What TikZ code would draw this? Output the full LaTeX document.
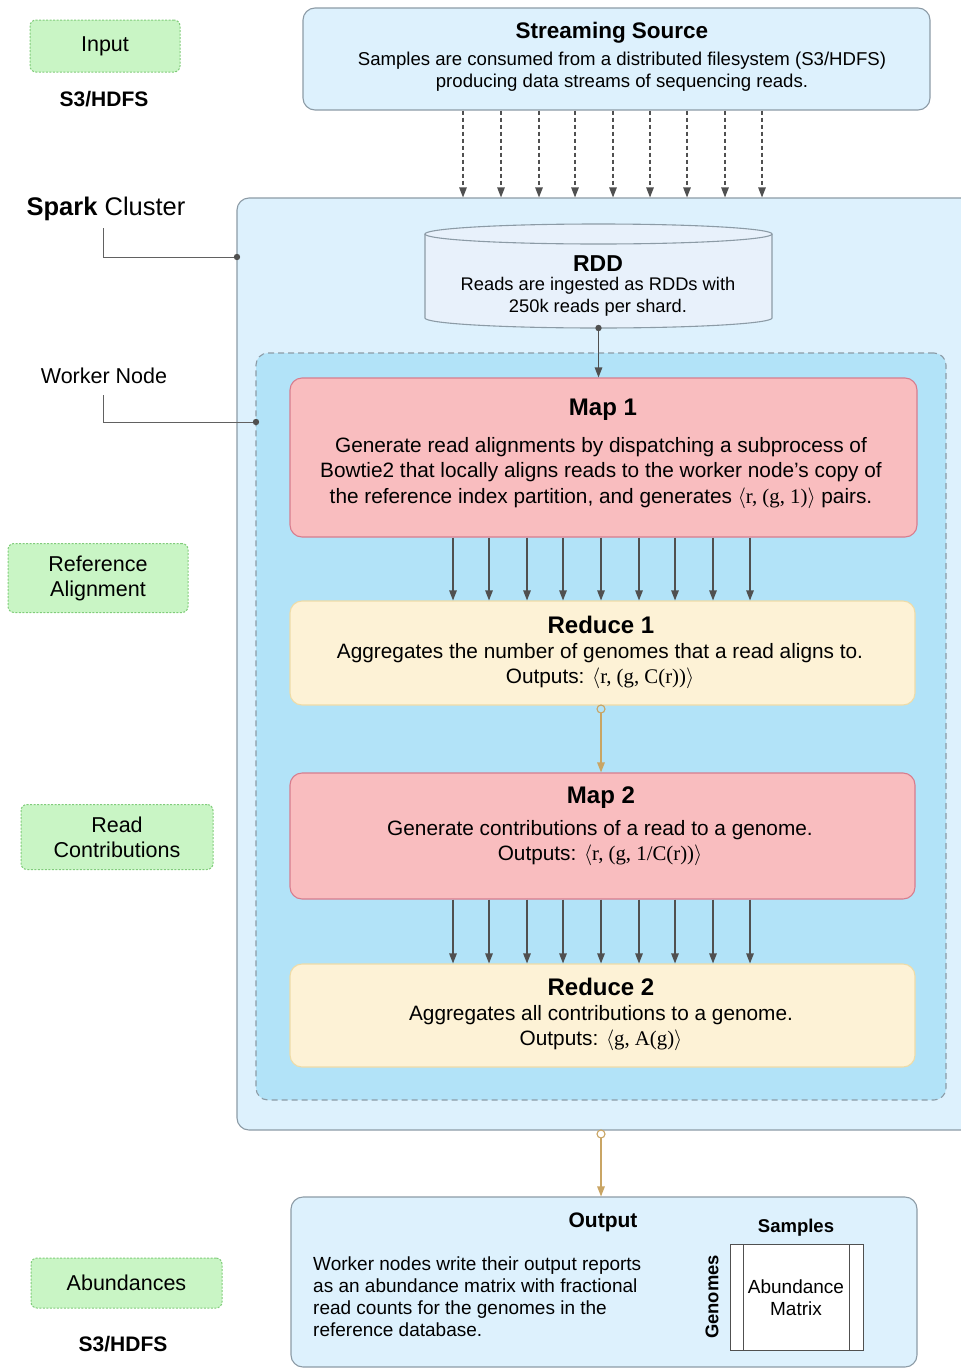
\RequirePackage{fix-cm}
\documentclass[tikz,border=0pt]{standalone}
\usepackage{fontspec}
\setmainfont{Liberation Sans}
\newfontfamily\serf{Liberation Serif}
\usetikzlibrary{arrows.meta}
\definecolor{lblue}{HTML}{DDF1FD}
\definecolor{wblue}{HTML}{B2E3F8}
\definecolor{bord}{HTML}{8C9BA6}
\definecolor{mapf}{HTML}{F9BDBF}
\definecolor{mapd}{HTML}{D77D8E}
\definecolor{redf}{HTML}{FDF2D6}
\definecolor{redd}{HTML}{EEDCA8}
\definecolor{grf}{HTML}{C9F5C5}
\definecolor{grd}{HTML}{80CC7A}
\definecolor{arr}{HTML}{505050}
\definecolor{gold}{HTML}{C9A564}
\definecolor{cylf}{HTML}{E8F1FB}
\newcommand{\ttlf}{\fontsize{24}{28}\selectfont\bfseries}
\newcommand{\bdyf}{\fontsize{20.8}{25.5}\selectfont}
\newcommand{\smf}{\fontsize{18.6}{22}\selectfont}
\newcommand{\lblf}{\fontsize{21.5}{25}\selectfont}
\newcommand{\ang}[1]{$\langle${\serf #1}$\rangle$}
\tikzset{
  box/.style={rounded corners=12pt, line width=1.1pt, inner sep=0pt},
  bluebox/.style={box, fill=lblue, draw=bord},
  mapbox/.style={box, fill=mapf, draw=mapd},
  redbox/.style={box, fill=redf, draw=redd},
  greenbox/.style={rounded corners=6pt, fill=grf, draw=grd, line width=1pt, dash pattern=on 2pt off 1.5pt, inner sep=0pt, font=\lblf, align=center},
  txt/.style={inner sep=0pt, align=center},
  darr/.style={draw=arr, line width=1.1pt, -{Triangle[width=7.5pt,length=10pt]}},
  dasharr/.style={darr, dash pattern=on 4pt off 3pt},
  garr/.style={draw=gold, line width=1.2pt, -{Triangle[width=7.5pt,length=10pt]}},
  lead/.style={draw=arr!90, line width=0.9pt},
}
\begin{document}
\begin{tikzpicture}[x=1pt,y=-1pt]
\useasboundingbox (0,0) rectangle (961,1368);
% left labels
\node[greenbox, minimum width=150pt, minimum height=52pt] (inp) at (105,46) {\raisebox{-2pt}{Input}};
\node[txt, font=\fontsize{21}{25}\selectfont\bfseries] (s3a) at (104,99) {S3/HDFS};
\node[greenbox, minimum width=180pt, minimum height=69pt] (refal) at (98,578) {Reference\\Alignment};
\node[greenbox, minimum width=192pt, minimum height=65pt] (readc) at (117,837) {Read\\Contributions};
\node[greenbox, minimum width=191pt, minimum height=50pt] (abund) at (126.5,1283) {\raisebox{-1pt}{Abundances}};
\node[txt, font=\fontsize{21}{25}\selectfont\bfseries] (s3b) at (123,1344) {S3/HDFS};
% streaming source
\node[bluebox, minimum width=627pt, minimum height=102pt] (stream) at (616.5,59) {};
\node[txt, font=\fontsize{22.5}{26}\selectfont\bfseries] (streamt) at (612,33) {Streaming Source};
\node[txt, font=\smf] (streamb) at (622,72) {Samples are consumed from a distributed filesystem (S3/HDFS)\\producing data streams of sequencing reads.};
% spark cluster
\node[bluebox, minimum width=760pt, minimum height=932pt] (spark) at (617,664) {};
\node[txt, font=\fontsize{25.5}{29}\selectfont] (sparkl) at (106,209) {\textbf{Spark} Cluster};
\coordinate (sparkdot) at (237,257);
\draw[lead] (103,228) |- (sparkdot);
\fill[arr] (sparkdot) circle (3.2pt);
% dashed arrows
\foreach \x in {463,501,539,575,613,650,687,725,762}
  \draw[dasharr] (stream.south -| \x,0) -- (spark.north -| \x,0);
% RDD cylinder
\draw[fill=cylf, draw=bord, line width=1.1pt] (425,234) -- (425,318) arc[start angle=180, end angle=360, x radius=173.5pt, y radius=10pt] -- (772,234);
\draw[fill=cylf, draw=bord, line width=1.1pt] (598.5,234) ellipse[x radius=173.5pt, y radius=10pt];
\node[txt, minimum width=347pt, minimum height=84pt] (rdd) at (598.5,286) {};
\node[txt, font=\fontsize{23}{27}\selectfont\bfseries] (rddt) at (598,264) {RDD};
\node[txt, font=\fontsize{18.3}{22}\selectfont] (rddb) at (598,297) {Reads are ingested as RDDs with\\250k reads per shard.};
\coordinate (rddout) at (598.5,328);
% worker node
\node[box, fill=wblue, draw=bord, dash pattern=on 6pt off 4pt, minimum width=690pt, minimum height=747pt] (worker) at (601,726.5) {};
\node[txt, font=\lblf] (workl) at (104,376) {Worker Node};
\coordinate (workdot) at (256,422);
\draw[lead] (103,395) |- (workdot);
\fill[arr] (workdot) circle (3.2pt);
% map 1
\node[mapbox, minimum width=627pt, minimum height=159pt] (map1) at (603.5,457.5) {};
\node[txt, font=\ttlf] (map1t) at (603,410) {Map 1};
\node[txt, font=\bdyf] (map1b) at (601,473) {Generate read alignments by dispatching a subprocess of\\Bowtie2 that locally aligns reads to the worker node’s copy of\\the reference index partition, and generates \ang{r, (g, 1)} pairs.};
\draw[darr] (rddout) -- (map1.north -| rddout);
\fill[arr] (rddout) circle (3.2pt);
% reduce 1
\node[redbox, minimum width=625pt, minimum height=104pt] (red1) at (602.5,653) {};
\node[txt, font=\ttlf] (red1t) at (601,625) {Reduce 1};
\node[txt, font=\bdyf] (red1b) at (600,666) {Aggregates the number of genomes that a read aligns to.\\Outputs: \ang{r, (g, C(r))}};
\foreach \x in {453,489,527,563,601,639,675,713,750}
  \draw[darr] (map1.south -| \x,0) -- (red1.north -| \x,0);
% map 2
\node[mapbox, minimum width=625pt, minimum height=126pt] (map2) at (602.5,836) {};
\node[txt, font=\ttlf] (map2t) at (601,798) {Map 2};
\node[txt, font=\bdyf] (map2b) at (600,843) {Generate contributions of a read to a genome.\\Outputs: \ang{r, (g, 1/C(r))}};
\coordinate (r1out) at (601,705);
\draw[garr] (r1out) -- (map2.north -| r1out);
\draw[gold, line width=1.1pt, fill=wblue] (601,709) circle (4pt);
% reduce 2
\node[redbox, minimum width=625pt, minimum height=103pt] (red2) at (602.5,1015.5) {};
\node[txt, font=\ttlf] (red2t) at (601,987) {Reduce 2};
\node[txt, font=\bdyf] (red2b) at (601,1028) {Aggregates all contributions to a genome.\\Outputs: \ang{g, A(g)}};
\foreach \x in {453,489,527,563,601,639,675,713,750}
  \draw[darr] (map2.south -| \x,0) -- (red2.north -| \x,0);
% output
\node[bluebox, minimum width=626pt, minimum height=170pt] (output) at (604,1282) {};
\node[txt, font=\fontsize{21}{25}\selectfont\bfseries] (outt) at (603,1222) {Output};
\node[txt, align=left, anchor=west, font=\fontsize{19}{22}\selectfont] (outb) at (313,1297) {Worker nodes write their output reports\\as an abundance matrix with fractional\\read counts for the genomes in the\\reference database.};
\coordinate (sparkout) at (601,1130);
\draw[garr] (sparkout) -- (output.north -| sparkout);
\draw[gold, line width=1.1pt, fill=white] (601,1134) circle (4pt);
% matrix
\node[draw=arr, fill=white, line width=1pt, minimum width=133pt, minimum height=106pt, inner sep=0pt] (matrix) at (796.5,1297) {};
\draw[arr, line width=1pt] (743,1244) -- (743,1350) (849,1244) -- (849,1350);
\node[txt, font=\fontsize{19}{22}\selectfont] (matt) at (796,1298) {Abundance\\Matrix};
\node[txt, font=\fontsize{18.5}{22}\selectfont\bfseries] (samp) at (796,1228) {Samples};
\node[txt, rotate=90, font=\fontsize{18.4}{22}\selectfont\bfseries] (genm) at (712,1297) {Genomes};
\end{tikzpicture}
\end{document}
